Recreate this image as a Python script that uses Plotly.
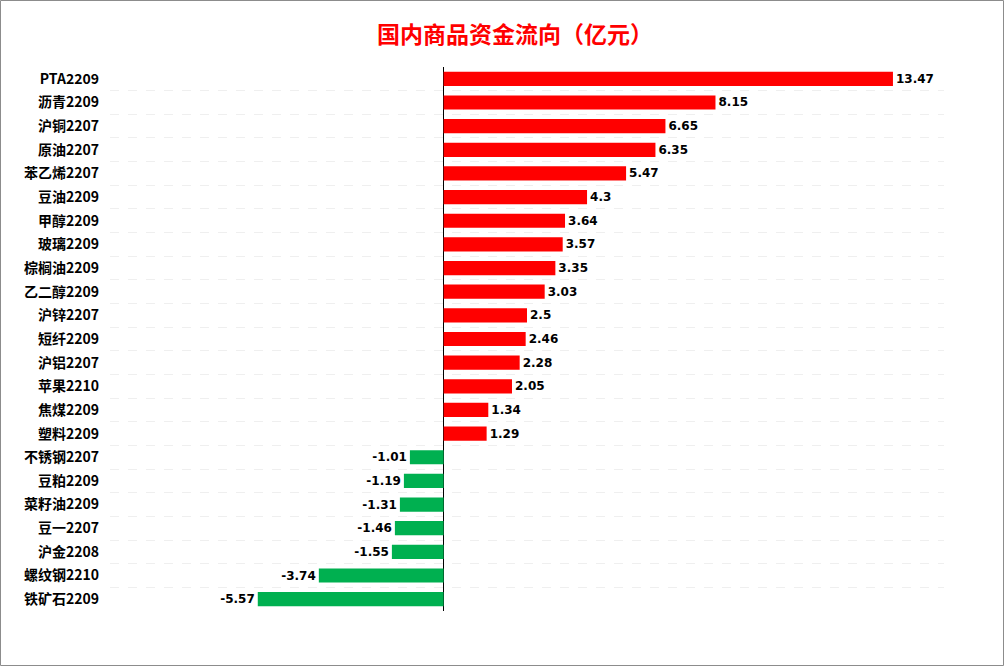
import plotly.graph_objects as go

categories = ["PTA2209", "沥青2209", "沪铜2207", "原油2207", "苯乙烯2207", "豆油2209", "甲醇2209",
              "玻璃2209", "棕榈油2209", "乙二醇2209", "沪锌2207", "短纤2209", "沪铝2207", "苹果2210",
              "焦煤2209", "塑料2209", "不锈钢2207", "豆粕2209", "菜籽油2209", "豆一2207", "沪金2208",
              "螺纹钢2210", "铁矿石2209"]
values = [13.47, 8.15, 6.65, 6.35, 5.47, 4.3, 3.64, 3.57, 3.35, 3.03, 2.5, 2.46, 2.28, 2.05,
          1.34, 1.29, -1.01, -1.19, -1.31, -1.46, -1.55, -3.74, -5.57]
labels = ["13.47", "8.15", "6.65", "6.35", "5.47", "4.3", "3.64", "3.57", "3.35", "3.03", "2.5",
          "2.46", "2.28", "2.05", "1.34", "1.29", "-1.01", "-1.19", "-1.31", "-1.46", "-1.55",
          "-3.74", "-5.57"]

colors = ["#ff0000" if v >= 0 else "#00b050" for v in values]

fig = go.Figure(go.Bar(
    x=values, y=categories, orientation="h",
    marker=dict(color=colors, line=dict(width=0)),
    width=0.6,
    text=labels, textposition="outside", cliponaxis=False, constraintext="none",
    textfont=dict(family="DejaVu Sans, Noto Sans CJK SC", size=12, color="#000000", weight="bold"),
))

L, R, T, B = 110, 60, 67, 55
W, H = 1004, 666
pw, ph = W - L - R, H - T - B

fig.update_layout(
    width=W, height=H,
    margin=dict(l=L, r=R, t=T, b=B),
    paper_bgcolor="white", plot_bgcolor="white",
    showlegend=False,
    title=dict(text="<b>国内商品资金流向（亿元）</b>", x=0.513, xanchor="center", y=0.947, yanchor="middle",
               font=dict(family="Noto Sans CJK SC", size=23, color="#ff0000")),
    xaxis=dict(range=[-10, 15], showticklabels=False, showgrid=False,
               zeroline=True, zerolinecolor="#000000", zerolinewidth=1, fixedrange=True),
    yaxis=dict(autorange="reversed", type="category", tickson="boundaries",
               showgrid=True, gridcolor="#efefef", griddash="dash", gridwidth=1,
               ticks="", ticklen=0,
               tickfont=dict(family="Noto Sans CJK SC", size=14, color="#000000", weight="bold"),
               ticklabelstandoff=10),
    shapes=[dict(type="rect", xref="paper", yref="paper",
                 x0=-(L - 0.5) / pw, x1=1 + (R - 0.5) / pw,
                 y0=-(B - 0.5) / ph, y1=1 + (T - 0.5) / ph,
                 line=dict(color="#8c8c8c", width=1), fillcolor="rgba(0,0,0,0)")],
)

fig.write_html("out.html")
